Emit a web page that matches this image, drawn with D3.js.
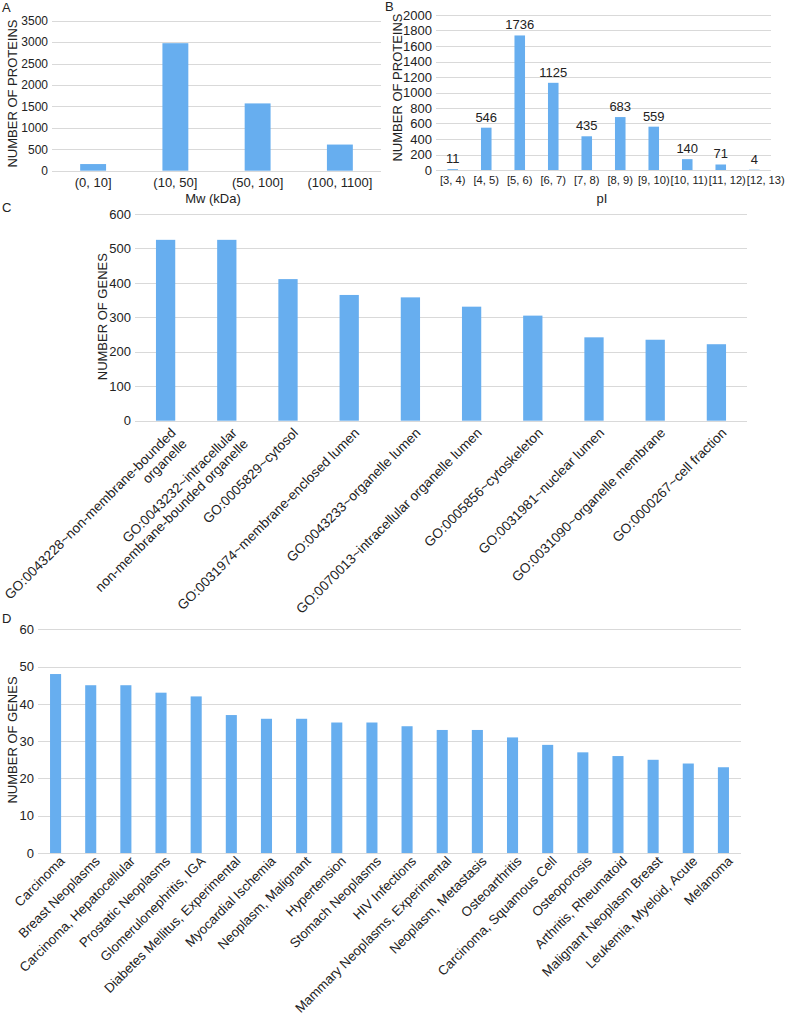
<!DOCTYPE html>
<html><head><meta charset="utf-8">
<script src="https://cdn.jsdelivr.net/npm/d3@7"></script>
<style>
body{margin:0;background:#fff}
svg{display:block}
text{font-family:"Liberation Sans",Arial,Helvetica,sans-serif;fill:#222}
</style>
</head><body>
<svg id="chart" width="786" height="1017"></svg>
<script>
// ---- Data ----
const mwCategories = ["(0, 10]", "(10, 50]", "(50, 100]", "(100, 1100]"];
const mwValues = [155, 2975, 1570, 610];
const mwTicks = [0, 500, 1000, 1500, 2000, 2500, 3000, 3500];

const piCategories = ["[3, 4)", "[4, 5)", "[5, 6)", "[6, 7)", "[7, 8)", "[8, 9)", "[9, 10)", "[10, 11)", "[11, 12)", "[12, 13)"];
const piValues = [11, 546, 1736, 1125, 435, 683, 559, 140, 71, 4];
const piTicks = [0, 200, 400, 600, 800, 1000, 1200, 1400, 1600, 1800, 2000];

const goCategories = [
  "GO:0043228~non-membrane-bounded\norganelle",
  "GO:0043232~intracellular\nnon-membrane-bounded organelle",
  "GO:0005829~cytosol",
  "GO:0031974~membrane-enclosed lumen",
  "GO:0043233~organelle lumen",
  "GO:0070013~intracellular organelle lumen",
  "GO:0005856~cytoskeleton",
  "GO:0031981~nuclear lumen",
  "GO:0031090~organelle membrane",
  "GO:0000267~cell fraction"
];
const goValues = [525, 525, 411, 365, 358, 331, 305, 242, 235, 222];
const goTicks = [0, 100, 200, 300, 400, 500, 600];

const diseaseCategories = [
  "Carcinoma", "Breast Neoplasms", "Carcinoma, Hepatocellular", "Prostatic Neoplasms",
  "Glomerulonephritis, IGA", "Diabetes Mellitus, Experimental", "Myocardial Ischemia",
  "Neoplasm, Malignant", "Hypertension", "Stomach Neoplasms", "HIV Infections",
  "Mammary Neoplasms, Experimental", "Neoplasm, Metastasis", "Osteoarthritis",
  "Carcinoma, Squamous Cell", "Osteoporosis", "Arthritis, Rheumatoid",
  "Malignant Neoplasm Breast", "Leukemia, Myeloid, Acute", "Melanoma"
];
const diseaseValues = [48, 45, 45, 43, 42, 37, 36, 36, 35, 35, 34, 33, 33, 31, 29, 27, 26, 25, 24, 23];
const diseaseTicks = [0, 10, 20, 30, 40, 50, 60];

// ---- Drawing ----
const svg = d3.select("#chart");
const BAR = "#67aeef", GRID = "#d9d9d9";

function panel(o) {
  const g = svg.append("g");
  const x = d3.scaleBand().domain(o.cats).range([o.x0, o.x1]).paddingInner(0.685).paddingOuter(0.3425);
  const y = d3.scaleLinear().domain([0, o.ticks[o.ticks.length - 1]]).range([o.yb, o.yt]);

  // gridlines
  g.selectAll("line.grid").data(o.ticks).join("line")
    .attr("x1", o.x0).attr("x2", o.x1)
    .attr("y1", d => Math.round(y(d)) + 0.5).attr("y2", d => Math.round(y(d)) + 0.5)
    .attr("stroke", GRID).attr("stroke-width", 1.2);

  // y tick labels
  g.selectAll("text.yt").data(o.ticks).join("text")
    .attr("x", o.x0 - 4).attr("y", d => y(d)).attr("dy", "0.36em")
    .attr("text-anchor", "end").style("font-size", (o.ytFont || 13) + "px")
    .text(d => d);

  // bars
  g.selectAll("rect.bar").data(o.vals).join("rect")
    .attr("x", (d, i) => x(o.cats[i])).attr("width", x.bandwidth())
    .attr("y", d => y(d)).attr("height", d => y(0) - y(d))
    .attr("fill", BAR);

  // data labels
  if (o.dataLabels) {
    g.selectAll("text.dl").data(o.vals).join("text")
      .attr("x", (d, i) => x(o.cats[i]) + x.bandwidth() / 2)
      .attr("y", d => y(d) - 6)
      .attr("text-anchor", "middle").style("font-size", "13px")
      .text(d => d);
  }

  // x labels
  if (o.rotate) {
    o.cats.forEach((c, i) => {
      const cx = x(c) + x.bandwidth() / 2;
      const t = g.append("text")
        .attr("transform", `translate(${cx + o.lx},${o.yb + o.ly}) rotate(-45)`)
        .attr("text-anchor", "end").style("font-size", o.lFont + "px");
      c.split("\n").forEach((line, k) => {
        t.append("tspan").attr("x", 0).attr("y", k * 15.5).text(line);
      });
    });
  } else {
    const labels = g.selectAll("text.xt").data(o.cats).join("text")
      .attr("x", d => x(d) + x.bandwidth() / 2).attr("y", o.yb + o.xtOff)
      .attr("text-anchor", "middle").style("font-size", o.xtFont + "px")
      .text(d => d);
    // push labels right so neighbours do not overlap (as the original layout does)
    let prevRight = -Infinity;
    labels.each(function () {
      const w = this.getComputedTextLength();
      let c = +this.getAttribute("x");
      if (c - w / 2 < prevRight + 1) c = prevRight + 1 + w / 2;
      this.setAttribute("x", c);
      prevRight = c + w / 2;
    });
  }

  if (o.xTitle) {
    g.append("text").attr("x", o.xTitleX).attr("y", o.xTitleY)
      .attr("text-anchor", "middle").style("font-size", "13px").text(o.xTitle);
  }
  g.append("text")
    .attr("transform", `translate(${o.yTitleX},${o.yTitleY}) rotate(-90)`)
    .attr("text-anchor", "middle").attr("dy", "0.36em").style("font-size", "13px")
    .text(o.yTitle);
  g.append("text").attr("x", o.letterX).attr("y", o.letterY).style("font-size", "13px").text(o.letter);
}

panel({cats: mwCategories, vals: mwValues, ticks: mwTicks,
  x0: 52, x1: 381, yt: 20.7, yb: 170.7, ytFont: 12,
  xtOff: 16, xtFont: 13, xTitle: "Mw (kDa)", xTitleX: 213, xTitleY: 203,
  yTitle: "NUMBER OF PROTEINS", yTitleX: 12, yTitleY: 93.5, letter: "A", letterX: 2, letterY: 12});

panel({cats: piCategories, vals: piValues, ticks: piTicks,
  x0: 436, x1: 771, yt: 15, yb: 170, ytFont: 13, dataLabels: true,
  xtOff: 14, xtFont: 11.2, xTitle: "pI", xTitleX: 602, xTitleY: 203,
  yTitle: "NUMBER OF PROTEINS", yTitleX: 397, yTitleY: 87.5, letter: "B", letterX: 385, letterY: 11});

panel({cats: goCategories, vals: goValues, ticks: goTicks,
  x0: 135, x1: 747, yt: 214, yb: 420.7, ytFont: 13, rotate: true, lx: 11, ly: 13, lFont: 13.6,
  yTitle: "NUMBER OF GENES", yTitleX: 102, yTitleY: 316.7, letter: "C", letterX: 2, letterY: 212});

panel({cats: diseaseCategories, vals: diseaseValues, ticks: diseaseTicks,
  x0: 38, x1: 741, yt: 629.3, yb: 853, ytFont: 13, rotate: true, lx: 10, ly: 9, lFont: 13.3,
  yTitle: "NUMBER OF GENES", yTitleX: 12, yTitleY: 740, letter: "D", letterX: 2, letterY: 623});
</script>
</body></html>
